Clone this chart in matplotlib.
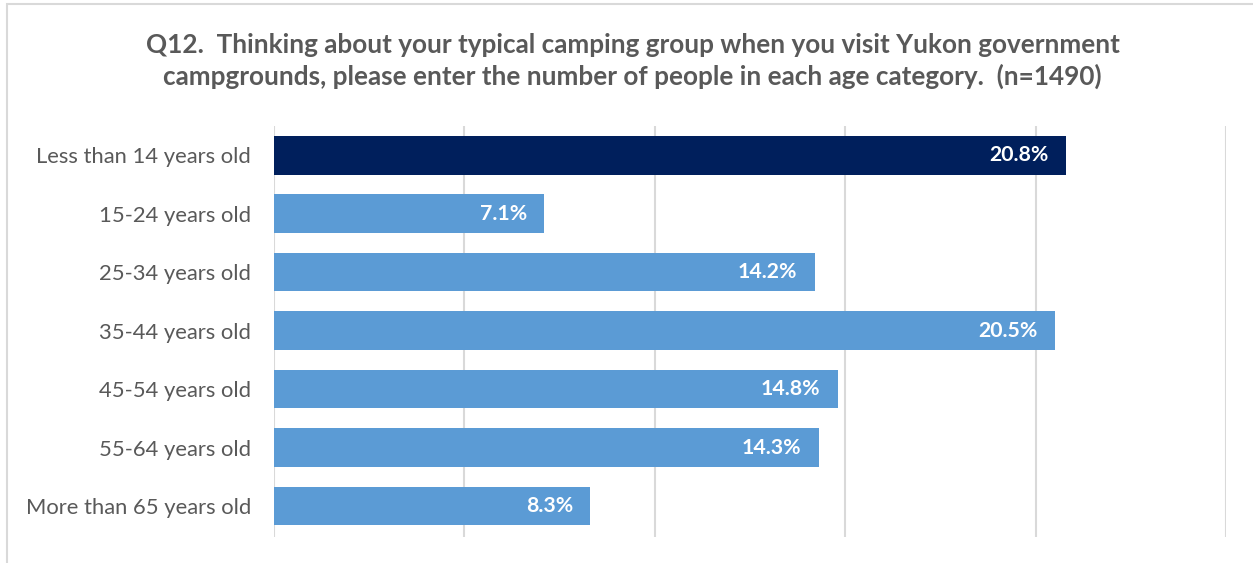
import matplotlib
matplotlib.use("Agg")
import matplotlib.pyplot as plt
from matplotlib.patches import Rectangle

categories = ["Less than 14 years old", "15-24 years old", "25-34 years old",
              "35-44 years old", "45-54 years old", "55-64 years old",
              "More than 65 years old"]
values = [20.8, 7.1, 14.2, 20.5, 14.8, 14.3, 8.3]
colors = ["#001F5C"] + ["#5B9BD5"] * 6
title = ("Q12.  Thinking about your typical camping group when you visit Yukon government\n"
         "campgrounds, please enter the number of people in each age category.  (n=1490)")

plt.rcParams['font.family'] = ['Lato', 'DejaVu Sans']

W, H = 1253, 563
fig = plt.figure(figsize=(W / 100, H / 100), dpi=100)
fig.patch.set_facecolor("white")

# outer chart border
fig.add_artist(Rectangle((7 / W, -0.1), 1.2, 1 - 4 / H + 0.1, transform=fig.transFigure,
                         fill=False, edgecolor="#D9D9D9", linewidth=1.5))

ax = fig.add_axes([274 / W, 1 - 537 / H, (1226 - 274) / W, (537 - 126) / H])
y = list(range(len(categories)))
ax.barh(y, values, height=0.66, color=colors, zorder=3)
ax.set_ylim(len(categories) - 0.5 + 0.03, -0.5)
ax.set_xlim(0, 25)
ax.set_xticks([0, 5, 10, 15, 20, 25])
ax.set_xticklabels([])
ax.tick_params(axis="x", length=0)
ax.tick_params(axis="y", length=0, pad=16.5)
ax.set_yticks(y)
ax.set_yticklabels(categories, fontsize=15.8, color="#595959")
ax.grid(axis="x", color="#D9D9D9", linewidth=1.5, zorder=0)
for s in ax.spines.values():
    s.set_visible(False)

for yi, v in zip(y, values):
    ax.text(v - 0.45, yi, f"{v:.1f}%", ha="right", va="center", color="white",
            fontsize=15.3, fontweight="bold", zorder=4)

fig.text(0.505, 1 - 61 / H, title, ha="center", va="center", fontsize=18.8,
         fontweight="bold", color="#595959", linespacing=1.35)

fig.savefig("out.png", dpi=100)
